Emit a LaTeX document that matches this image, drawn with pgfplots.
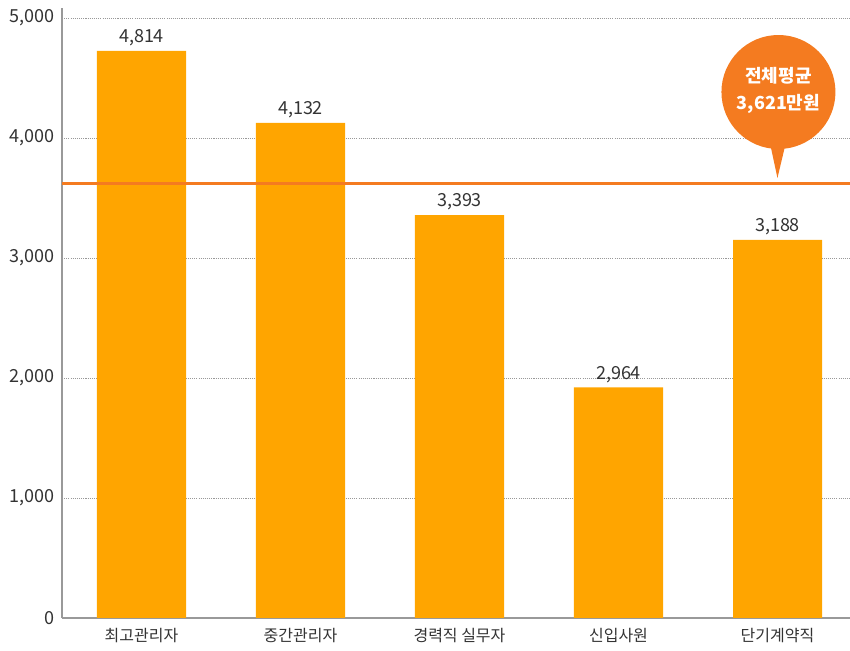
\documentclass[border=0pt]{standalone}
\usepackage{pgfplots}
\pgfplotsset{compat=1.18}
\usepackage{pgfplotstable}
\usepackage{fontspec}
\setmainfont{Noto Sans CJK KR}
\definecolor{barcol}{HTML}{FFA500}
\definecolor{avgcol}{HTML}{F47B20}
\definecolor{txt}{HTML}{333333}
\definecolor{axcol}{HTML}{999999}
\pgfplotstableread{
x y label
0 4725 4,814
1 4125 4,132
2 3358 3,393
3 1922 2,964
4 3150 3,188
}\bardata
\begin{document}
\begin{tikzpicture}
\begin{axis}[at={(0,0)}, anchor=south west, scale only axis,
  width=591pt, height=457.5pt,
  xmin=-0.5, xmax=4.456, ymin=0, ymax=5083,
  axis x line=bottom, axis y line=left,
  axis line style={axcol, -, line width=0.8pt},
  xtick={0,...,4},
  xticklabels={최고관리자,중간관리자,경력직 실무자,신입사원,단기계약직},
  major x tick style={draw=none},
  xticklabel style={yshift=-2pt, font=\fontsize{12}{14}\selectfont},
  extra x ticks={-0.5,0.5,1.5,2.5,3.5}, extra x tick labels={},
  extra x tick style={tick align=outside, major tick length=10.5pt,
    major tick style={axcol, line width=0.8pt, draw=axcol}, grid=none},
  ytick={0,1000,...,5000}, major y tick style={draw=none},
  yticklabel style={font=\fontsize{13.5}{15}\selectfont},
  ymajorgrids, grid style={axcol, dash pattern=on 0.8pt off 0.8pt, line width=0.6pt},
  scaled y ticks=false,
  /pgf/number format/assume math mode=true,
  /pgf/number format/1000 sep={,},
  tick label style={text=txt},
]
\addplot[ybar, bar width=66.75pt, fill=barcol, draw=none,
  nodes near coords, point meta=explicit symbolic,
  nodes near coords style={font=\fontsize{13.5}{15}\selectfont, text=txt, anchor=south}]
  table[x=x, y=y, meta=label]{\bardata};
\addplot[avgcol, line width=2.25pt] coordinates {(-0.5,3621) (4.456,3621)};
\fill[avgcol] (axis cs:4.006,4383) circle[radius=42.75pt];
\fill[avgcol] ([shift={(-7.5pt,-33pt)}]axis cs:4.006,4383) -- ([shift={(-0.75pt,-64.5pt)}]axis cs:4.006,4383) -- ([shift={(6.75pt,-33pt)}]axis cs:4.006,4383) -- cycle;
\node[white, font=\bfseries\fontsize{13.5}{20}\selectfont, align=center] at (axis cs:4.006,4395) {전체평균\\3,621만원};
\end{axis}
\pgfresetboundingbox
\path[use as bounding box] (-46.5pt,-24pt) rectangle (591pt,463.5pt);
\end{tikzpicture}
\end{document}
